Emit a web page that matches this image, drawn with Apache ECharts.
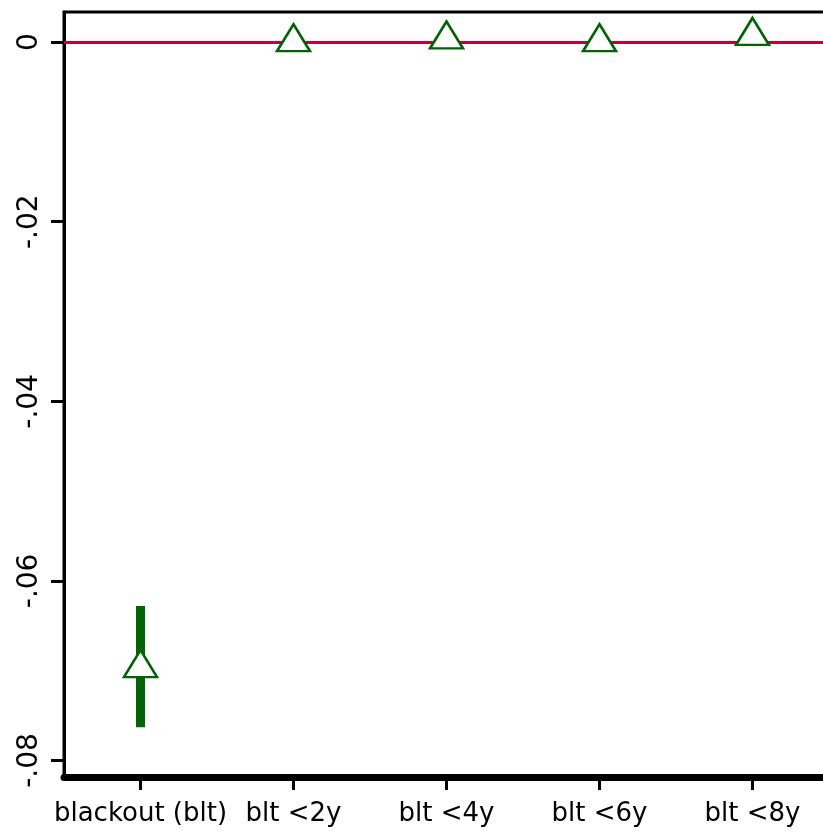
<!DOCTYPE html>
<html>
<head>
<meta charset="utf-8">
<script src="https://cdn.jsdelivr.net/npm/echarts@6/dist/echarts.min.js"></script>
<style>
html,body{margin:0;padding:0;background:#fff;}
#chart{width:823px;height:832px;}
</style>
</head>
<body>
<div id="chart"></div>
<script>
const categories = ['blackout (blt)', 'blt <2y', 'blt <4y', 'blt <6y', 'blt <8y'];
const estimates = [-0.0692, 0.0005, 0.0008, 0.0005, 0.0012];
const ciLow = [-0.0763, 0.0003, 0.0006, 0.0003, 0.0010];
const ciHigh = [-0.0628, 0.0007, 0.0010, 0.0007, 0.0014];
const yTicks = [0, -0.02, -0.04, -0.06, -0.08];
const yTickLabels = ['0', '-.02', '-.04', '-.06', '-.08'];

const green = '#006400';
const chart = echarts.init(document.getElementById('chart'), null, {renderer: 'canvas'});

const ciData = categories.map((c, i) => [i, ciLow[i], ciHigh[i]]);
const ptData = categories.map((c, i) => [i, estimates[i]]);

chart.setOption({
  animation: false,
  backgroundColor: '#fff',
  grid: {left: 64, top: 12, width: 765, height: 765, containLabel: false, outerBoundsMode: 'none', show: true, borderColor: '#000', borderWidth: 3, backgroundColor: 'transparent'},
  xAxis: {
    type: 'category',
    data: categories,
    boundaryGap: true,
    axisLine: {show: true, onZero: false, lineStyle: {color: '#000', width: 7}},
    axisTick: {show: true, alignWithLabel: true, length: 13, lineStyle: {color: '#000', width: 3}},
    axisLabel: {show: true, margin: 24, color: '#000', fontFamily: 'DejaVu Sans', fontSize: 26, interval: 0},
    splitLine: {show: false}
  },
  yAxis: {
    type: 'value',
    min: -0.08184,
    max: 0.00336,
    axisLine: {show: true, onZero: false, lineStyle: {color: '#000', width: 3}},
    axisTick: {show: true, length: 13, customValues: yTicks, lineStyle: {color: '#000', width: 3}},
    axisLabel: {
      show: true, rotate: 90, margin: 20, color: '#000', fontFamily: 'DejaVu Sans', fontSize: 28,
      customValues: yTicks,
      formatter: function (v) {
        for (let i = 0; i < yTicks.length; i++) if (Math.abs(yTicks[i] - v) < 1e-9) return yTickLabels[i];
        return '';
      }
    },
    splitLine: {show: false}
  },
  series: [
    {
      type: 'custom',
      data: ciData,
      z: 2,
      encode: {x: 0, y: [1, 2]},
      renderItem: function (params, api) {
        const lo = api.coord([api.value(0), api.value(1)]);
        const hi = api.coord([api.value(0), api.value(2)]);
        const w = 9;
        return {
          type: 'rect',
          shape: {x: lo[0] - w / 2, y: hi[1], width: w, height: lo[1] - hi[1]},
          style: {fill: green}
        };
      },
      markLine: {
        silent: true,
        symbol: 'none',
        label: {show: false},
        lineStyle: {color: '#c2003b', width: 3, type: 'solid'},
        data: [{yAxis: 0}],
        z: 1
      }
    },
    {
      type: 'scatter',
      data: ptData,
      z: 5,
      symbol: 'triangle',
      symbolSize: [33, 27],
      itemStyle: {color: '#fff', borderColor: green, borderWidth: 2.5, opacity: 1}
    }
  ]
});
</script>
</body>
</html>
